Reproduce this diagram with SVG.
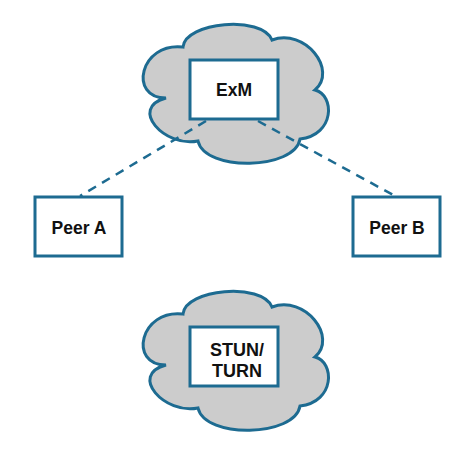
<svg xmlns="http://www.w3.org/2000/svg" xmlns:xlink="http://www.w3.org/1999/xlink" width="476" height="456" viewBox="0 0 476 456">
<style>
.cloud{fill:#cccccc;stroke:#1d6b91;stroke-width:3}
.box{fill:#ffffff;stroke:#1d6b91;stroke-width:3}
.lbl{font-family:"Liberation Sans",Arial,sans-serif;font-weight:bold;font-size:17.5px;fill:#111;text-anchor:middle}
.dash{stroke:#1d6b91;stroke-width:2.5;stroke-dasharray:9,7;fill:none}
</style>
<defs>
<path id="cloudShape" d="M 183,47 C 185,22 262,15 272,40 C 305,28 338,70 315,90 C 335,95 335,135 300,139 C 295,170 205,172 198,141 C 165,148 128,108 166,98 C 128,98 140,42 183,47 Z"/>
</defs>
<g id="exm">
<use xlink:href="#cloudShape" class="cloud"/>
</g>
<g id="connectors">
<line class="dash" x1="206" y1="121" x2="80" y2="196"/>
<line class="dash" x1="258" y1="121" x2="395" y2="196"/>
</g>
<g id="exm-box">
<rect class="box" x="190" y="60" width="88" height="59"/>
<text class="lbl" x="234" y="96">ExM</text>
</g>
<g id="peerA">
<rect class="box" x="35" y="197" width="87" height="59"/>
<text class="lbl" x="79" y="234">Peer A</text>
</g>
<g id="peerB">
<rect class="box" x="353" y="197" width="87" height="59"/>
<text class="lbl" x="397" y="234">Peer B</text>
</g>
<g id="stun">
<use xlink:href="#cloudShape" class="cloud" transform="translate(0,267)"/>
<rect class="box" x="190" y="327" width="88" height="59"/>
<text class="lbl" x="237" y="356" style="font-size:18px">STUN/</text>
<text class="lbl" x="237" y="377" style="font-size:18px">TURN</text>
</g>
</svg>
